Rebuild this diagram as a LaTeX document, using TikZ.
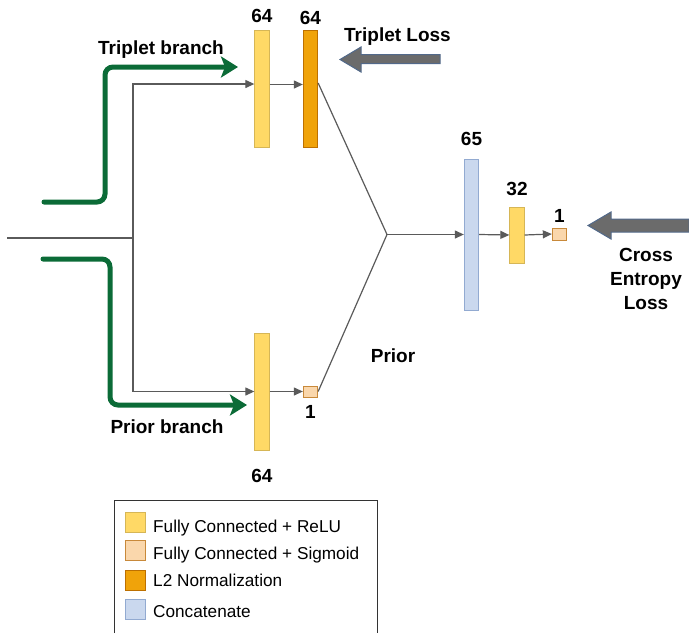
\documentclass[tikz,border=0pt]{standalone}
\usepackage{fontspec}
\setmainfont{Liberation Sans}
\usetikzlibrary{arrows.meta,positioning,calc}
\definecolor{fcfill}{HTML}{FFD966}
\definecolor{fcdraw}{HTML}{D6B656}
\definecolor{sigfill}{HTML}{FAD7AC}
\definecolor{sigdraw}{HTML}{C8893A}
\definecolor{l2fill}{HTML}{F0A30A}
\definecolor{l2draw}{HTML}{BD7000}
\definecolor{catfill}{HTML}{CAD8EE}
\definecolor{catdraw}{HTML}{92AAD1}
\definecolor{connc}{HTML}{5A5A5A}
\definecolor{brgreen}{HTML}{0B6B37}
\definecolor{lossfill}{HTML}{6B6B6B}
\definecolor{lossdraw}{HTML}{52698A}
\definecolor{legdraw}{HTML}{333333}
\tikzset{
  lbl/.style={font=\bfseries\fontsize{19}{24}\selectfont,text=black,inner sep=0pt},
  num/.style={font=\bfseries\fontsize{19}{22}\selectfont,text=black,inner sep=0pt},
  legtxt/.style={font=\fontsize{17.2}{19}\selectfont,text=black,inner sep=0pt,anchor=base west},
  layer/.style={inner sep=0pt,line width=0.8pt,minimum width=14.5pt},
  fc/.style={layer,draw=fcdraw,fill=fcfill},
  sig/.style={layer,draw=sigdraw,fill=sigfill},
  l2n/.style={layer,draw=l2draw,fill=l2fill},
  cat/.style={layer,draw=catdraw,fill=catfill},
  wire/.style={draw=connc,line width=1.2pt},
  conn/.style={wire,-{Triangle[length=9pt,width=8pt]}},
  branch/.style={draw=brgreen,line width=5pt,rounded corners=8pt,line cap=round,-{Stealth[length=17pt,width=21pt,inset=4pt]}},
  lossarr/.style={fill=lossfill,draw=lossdraw,line width=1pt},
  legbox/.style={draw=legdraw,line width=1pt}
}
\begin{document}
\begin{tikzpicture}[x=1pt,y=-1pt]
\path[use as bounding box] (0,0) rectangle (689,633);

% layers
\node[fc,minimum height=117pt] (fc1) at (262,88.5) {};
\node[l2n,minimum height=117pt] (l2) at (310.5,88.5) {};
\node[fc,minimum height=117pt] (fc2) at (262,391.5) {};
\node[sig,minimum height=11pt] (sg1) at (310.5,391.5) {};
\node[cat,minimum height=151pt] (cc) at (471.5,234.5) {};
\node[fc,minimum height=56pt] (fc3) at (517,235) {};
\node[sig,minimum height=12pt] (sg2) at (559.5,234) {};

% sizes
\node[num,above=7pt of fc1] (fc1sz) {64};
\node[num,above=5pt of l2] (l2sz) {64};
\node[num,below=19pt of fc2] (fc2sz) {64};
\node[num,below=8pt of sg1] (sg1sz) {1};
\node[num,above=13pt of cc] (ccsz) {65};
\node[num,above=11pt of fc3] (fc3sz) {32};
\node[num,above=5pt of sg2] (sg2sz) {1};

% connectors
\coordinate (inp) at (7,238);
\coordinate (split) at (133,238);
\coordinate (join) at (387,234.5);
\draw[wire] (inp) -- (split);
\draw[conn] (split) |- ([yshift=4.5pt]fc1.west);
\draw[conn] (split) |- (fc2.west);
\draw[conn] ([yshift=4pt]fc1.east) -- ([yshift=4pt]l2.west);
\draw[conn] (fc2.east) -- (sg1.west);
\draw[wire] ([yshift=5.5pt]l2.east) -- (join) -- (sg1.east);
\draw[conn] (join) -- (cc.west);
\draw[conn] (cc.east) -- (fc3.west);
\draw[conn] (fc3.east) -- (sg2.west);

% branches
\coordinate (trs) at (44,202); \coordinate (tre) at (238,67);
\draw[branch] (trs) -- ++(61,0) |- (tre);
\coordinate (prs) at (43,259); \coordinate (pre) at (247,405);
\draw[branch] (prs) -- ++(67,0) |- (pre);
\node[lbl,anchor=base] (trbr) at (161,54) {Triplet branch};
\node[lbl,anchor=base] (prbr) at (167,433) {Prior branch};
\node[lbl,anchor=base] (prior) at (393,362) {Prior};

% losses
\draw[lossarr] (440,54.5) -- (361,54.5) -- (361,47) -- (340,59.5) -- (361,72) -- (361,63.5) -- (440,63.5) -- cycle;
\node[lbl,anchor=base] (trl) at (397.5,41) {Triplet Loss};
\draw[lossarr] (689,219) -- (611,219) -- (611,212) -- (588,225.5) -- (611,239) -- (611,232) -- (689,232) -- cycle;
\node[lbl,align=center] (cel) at (646,279) {Cross\\Entropy\\Loss};

% legend
\draw[legbox] (114,633) -- (114,500) -- (377,500) -- (377,633);
\foreach \sty/\y/\bl/\txt in {fc/522/532/{Fully Connected + ReLU},sig/550/559/{Fully Connected + Sigmoid},l2n/580/586/{L2 Normalization},cat/609/617/{Concatenate}}{
\node[\sty,minimum width=20pt,minimum height=20pt] (sw\sty) at (135,\y) {};
\node[legtxt] (lg\sty) at (153,\bl) {\txt};
}
\end{tikzpicture}
\end{document}
